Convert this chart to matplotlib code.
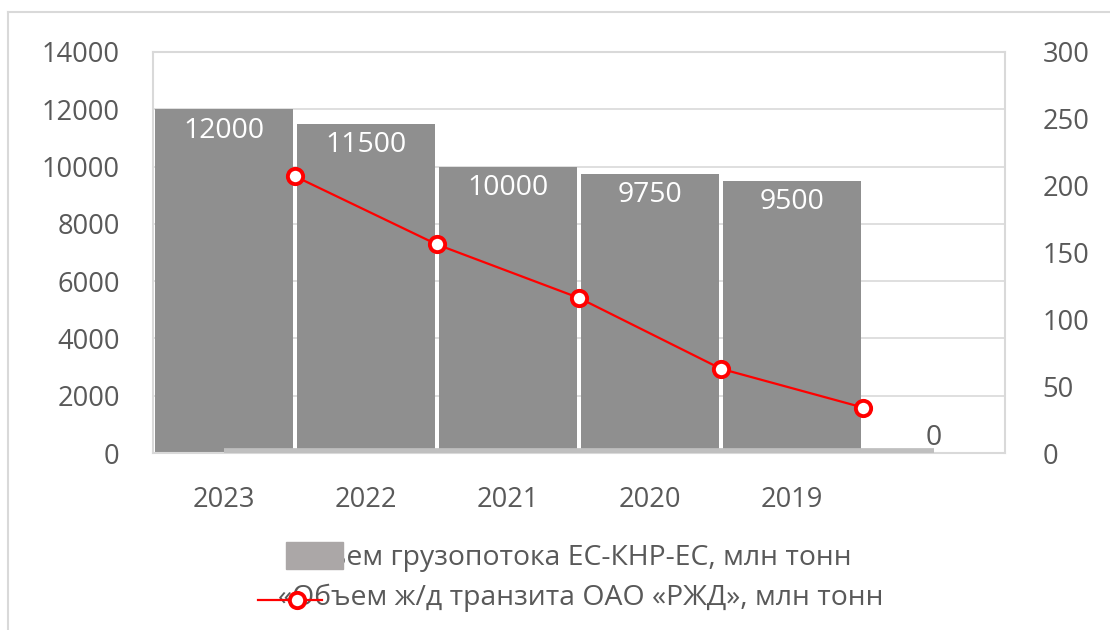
import matplotlib
matplotlib.use("Agg")
import matplotlib.pyplot as plt
from matplotlib.patches import Rectangle
from matplotlib.lines import Line2D

categories = ["2023", "2022", "2021", "2020", "2019", ""]
cargo_flow = [12000, 11500, 10000, 9750, 9500, 0]
rzd_transit = [207, 156, 116, 63, 34]
baseline_series = [0, 0, 0, 0, 0, 0]
left_ticks = [0, 2000, 4000, 6000, 8000, 10000, 12000, 14000]
right_ticks = [0, 50, 100, 150, 200, 250, 300]
legend_labels = ["Объем грузопотока ЕС-КНР-ЕС, млн тонн",
                 "«Объем ж/д транзита ОАО «РЖД», млн тонн"]

FONT = "Open Sans"
TXT = "#595959"
GRID = "#D9D9D9"
BAR = "#8F8F8F"
FS = 19.6
FS_LBL = 20.4
FS_LEG = 20.4

W, H = 1110, 630
fig = plt.figure(figsize=(W / 100, H / 100), dpi=100)
plt.rcParams["font.family"] = [FONT, "DejaVu Sans"]

def px(x0, y0, x1, y1):
    return [x0 / W, 1 - y1 / H, (x1 - x0) / W, (y1 - y0) / H]

ax = fig.add_axes(px(153, 52, 1005, 453))
x = list(range(len(categories)))
bars = ax.bar(x, cargo_flow, width=0.97, color=BAR, zorder=2)
ax.set_xlim(-0.5, len(categories) - 0.5)
ax.set_ylim(0, 14000)
ax.set_yticks(left_ticks)
ax.set_yticklabels([str(t) for t in left_ticks])
ax.set_xticks(x)
ax.set_xticklabels(categories)
ax.tick_params(axis="y", length=0, pad=24, labelsize=FS, labelcolor=TXT)
ax.tick_params(axis="x", length=0, pad=24, labelsize=FS, labelcolor=TXT)
ax.grid(axis="y", color=GRID, lw=1.2, zorder=0)
ax.set_axisbelow(True)
for s in ax.spines.values():
    s.set_color(GRID)
    s.set_linewidth(1.5)

# thin light baseline strip
ax.plot(x, baseline_series, color="#BFBFBF", lw=7, solid_capstyle="butt",
        zorder=3)

for xi, v in zip(x, cargo_flow):
    if v > 0:
        ax.annotate(str(v), (xi, v), xytext=(0, -15.5), textcoords="offset points",
                    ha="center", va="center", color="white", fontsize=FS_LBL,
                    zorder=5)
    else:
        ax.annotate(str(v), (xi, v), xytext=(0, 11), textcoords="offset points",
                    ha="center", va="center", color=TXT, fontsize=FS_LBL,
                    zorder=5)

ax2 = ax.twinx()
ax2.set_ylim(0, 300)
ax2.set_yticks(right_ticks)
ax2.set_yticklabels([str(t) for t in right_ticks])
ax2.tick_params(axis="y", length=0, pad=27, labelsize=FS, labelcolor=TXT)
for s in ax2.spines.values():
    s.set_visible(False)
line_x = [i + 0.5 for i in range(len(rzd_transit))]
ax2.plot(line_x, rzd_transit, color="#FF0000", lw=1.6, marker="o", ms=11,
         mfc="white", mec="#FF0000", mew=2.8, zorder=6, clip_on=False)

# outer chart border (top and left visible)
fig.add_artist(Line2D([8 / W, 1], [1 - 12 / H, 1 - 12 / H],
                      transform=fig.transFigure, color=GRID, lw=1.5))
fig.add_artist(Line2D([8 / W, 8 / W], [0, 1 - 12 / H],
                      transform=fig.transFigure, color=GRID, lw=1.5))

# legend (handles overlap the text, as in the reference)
fig.text(570 / W, 1 - 558 / H, legend_labels[0], ha="center", va="center",
         fontsize=FS_LEG, color=TXT)
fig.text(581 / W, 1 - 598 / H, legend_labels[1], ha="center", va="center",
         fontsize=FS_LEG, color=TXT)
fig.add_artist(Rectangle((286 / W, 1 - 569 / H), 57 / W, 27 / H,
                         transform=fig.transFigure, color="#ABA7A7", zorder=10))
fig.add_artist(Line2D([258 / W, 322 / W], [1 - 600 / H, 1 - 600 / H],
                      transform=fig.transFigure, color="#FF0000", lw=1.6,
                      zorder=10))
fig.add_artist(Line2D([297 / W], [1 - 600 / H], transform=fig.transFigure,
                      marker="o", ms=11, mfc="white", mec="#FF0000", mew=2.8,
                      zorder=11))

fig.savefig("out.png", dpi=100)
